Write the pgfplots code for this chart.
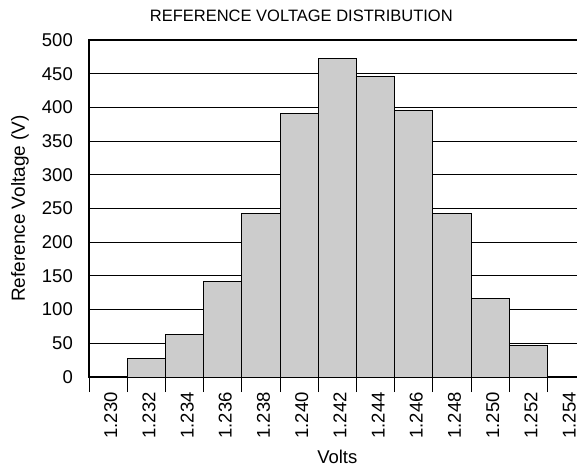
\documentclass[border=0pt]{standalone}
\usepackage{pgfplots}
\pgfplotsset{compat=1.18}
\usepackage{fontspec}
\setmainfont{Liberation Sans}
\begin{document}
\begin{tikzpicture}
\useasboundingbox (0pt,0pt) rectangle (577pt,467pt);
\begin{axis}[
    at={(89pt,90pt)}, anchor=south west,
    scale only axis, width=496.6pt, height=337pt,
    xmin=0, xmax=13, ymin=0, ymax=500,
    ytick={0,50,...,500},
    xtick={0.57,1.57,...,12.57},
    xticklabels={1.230,1.232,1.234,1.236,1.238,1.240,1.242,1.244,1.246,1.248,1.250,1.252,1.254},
    minor xtick={0,1,...,13},
    xtick pos=left, ytick pos=left,
    tick align=outside,
    major tick length=0pt,
    minor tick length=15pt,
    minor tick style={black, line width=1pt},
    ymajorgrids,
    grid style={black, line width=1pt},
    axis line style={black, line width=2pt},
    /pgf/number format/assume math mode=true,
    tick label style={font=\fontsize{18.5}{21}\selectfont},
    xticklabel style={rotate=90, anchor=east, inner sep=0pt},
    yticklabel style={anchor=east, inner sep=0pt},
    xticklabel shift=15pt,
    yticklabel shift=16pt,
    title={REFERENCE VOLTAGE DISTRIBUTION},
    every axis title/.style={at={([xshift=-36pt]axis description cs:0.5,1)}, anchor=base, yshift=19pt, font=\fontsize{16.5}{20}\selectfont},
    ylabel={Reference Voltage (V)},
    every axis y label/.style={at={([xshift=-69pt]axis description cs:0,0.5)}, rotate=90, anchor=center, font=\fontsize{19}{22}\selectfont},
    xlabel={Volts},
    every axis x label/.style={at={(axis description cs:0.5,0)}, anchor=base, yshift=-86pt, font=\fontsize{18.5}{21}\selectfont},
]
\addplot[ybar, bar width=1, fill=black!20, draw=black, line width=1pt] coordinates {
    (1.5,27) (2.5,63) (3.5,142) (4.5,242) (5.5,391) (6.5,472)
    (7.5,446) (8.5,395) (9.5,243) (10.5,117) (11.5,47)
};
\end{axis}
\end{tikzpicture}
\end{document}
